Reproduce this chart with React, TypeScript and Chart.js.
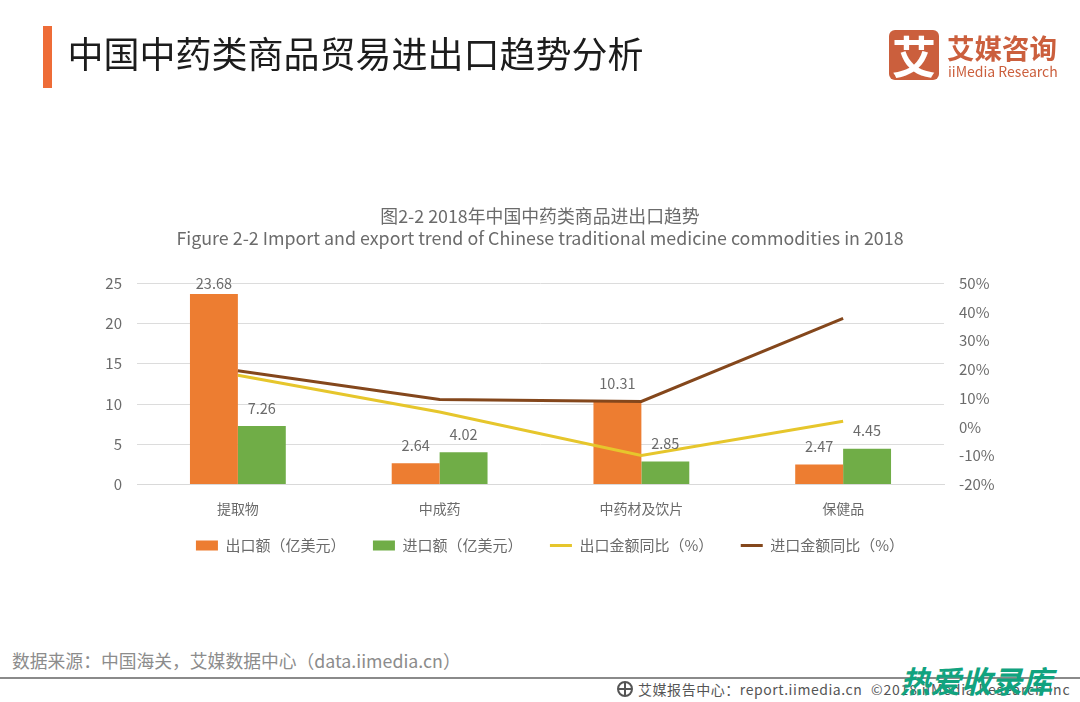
import React, { useEffect, useRef } from "react";
import { Chart, registerables } from "chart.js";

Chart.register(...registerables);

const categories = ["提取物", "中成药", "中药材及饮片", "保健品"];
const exportValues = [23.68, 2.64, 10.31, 2.47];
const importValues = [7.26, 4.02, 2.85, 4.45];
const exportYoY = [18, 5.2, -9.9, 2];
const importYoY = [19.6, 9.6, 8.9, 37.8];
const seriesNames = ["出口额（亿美元）", "进口额（亿美元）", "出口金额同比（%）", "进口金额同比（%）"];
const chartTitle = ["图2-2 2018年中国中药类商品进出口趋势", "Figure 2-2 Import and export trend of Chinese traditional medicine commodities in 2018"];

const FONT = '"Noto Sans CJK SC", "Noto Sans", sans-serif';
const GRAY = "#6b6b6b";

const valueLabels = {
  id: "valueLabels",
  afterLayout(chart: any) {
    chart.legend.left += 10;
    chart.legend.right += 10;
    chart.legend.top -= 14;
    chart.legend.bottom -= 14;
  },
  afterDatasetsDraw(chart: any) {
    const { ctx, chartArea } = chart;
    ctx.save();
    ctx.font = `14.5px ${FONT}`;
    ctx.fillStyle = GRAY;
    ctx.textAlign = "center";
    ctx.textBaseline = "middle";
    [2, 3].forEach((di) => {
      const meta = chart.getDatasetMeta(di);
      meta.data.forEach((bar: any, i: number) => {
        const y = Math.max(bar.y - 18, chartArea.top);
        ctx.fillText(chart.data.datasets[di].data[i].toFixed(2), bar.x, y);
      });
    });
    ctx.restore();
  },
};

const abs = (o: React.CSSProperties): React.CSSProperties => ({ position: "absolute", whiteSpace: "nowrap", fontFamily: FONT, ...o });

export default function App() {
  const ref = useRef<HTMLCanvasElement>(null);
  useEffect(() => {
    const chart = new Chart(ref.current!, {
      type: "bar",
      plugins: [valueLabels],
      data: {
        labels: categories,
        datasets: [
          { type: "line", label: seriesNames[2], data: exportYoY, yAxisID: "y1", borderColor: "#E6C62C", backgroundColor: "#E6C62C", borderWidth: 3, pointRadius: 0, tension: 0, order: 1 },
          { type: "line", label: seriesNames[3], data: importYoY, yAxisID: "y1", borderColor: "#84471C", backgroundColor: "#84471C", borderWidth: 3, pointRadius: 0, tension: 0, order: 0 },
          { label: seriesNames[0], data: exportValues, yAxisID: "y", backgroundColor: "#ED7D31", categoryPercentage: 0.475, barPercentage: 1, order: 3 },
          { label: seriesNames[1], data: importValues, yAxisID: "y", backgroundColor: "#70AD47", categoryPercentage: 0.475, barPercentage: 1, order: 3 },
        ] as any,
      },
      options: {
        animation: false,
        responsive: false,
        devicePixelRatio: 1,
        layout: { padding: { top: 205, left: 0, right: 0, bottom: 0 } },
        plugins: {
          tooltip: { enabled: false },
          title: {
            display: true,
            text: chartTitle,
            color: GRAY,
            font: { family: FONT, size: 17.85, weight: "normal", lineHeight: 1.24 },
            padding: { top: 0, bottom: 34 },
          },
          legend: {
            position: "bottom",
            labels: {
              color: GRAY,
              font: { family: FONT, size: 15 },
              usePointStyle: true,
              pointStyleWidth: 22,
              boxHeight: 10,
              padding: 27.5,
              generateLabels: (c: any) => {
                const order = [2, 3, 0, 1];
                return order.map((di) => {
                  const ds = c.data.datasets[di];
                  const isLine = ds.type === "line";
                  return {
                    text: ds.label,
                    fontColor: GRAY,
                    fillStyle: ds.backgroundColor,
                    strokeStyle: ds.backgroundColor,
                    lineWidth: isLine ? 3 : 0,
                    pointStyle: isLine ? "line" : "rect",
                    datasetIndex: di,
                    hidden: false,
                  };
                });
              },
            },
          },
        },
        scales: {
          x: {
            grid: { display: false },
            border: { color: "#d9d9d9" },
            ticks: { color: GRAY, font: { family: FONT, size: 14 }, padding: 8 },
            afterFit: (s: any) => { s.height = 40; },
          },
          y: {
            position: "left",
            min: 0,
            max: 25,
            grid: { color: "#dcdcdc", tickLength: 0 },
            border: { display: false },
            ticks: { stepSize: 5, color: GRAY, font: { family: FONT, size: 15 }, padding: 15 },
            afterFit: (s: any) => { s.width = 137; },
          },
          y1: {
            position: "right",
            min: -20,
            max: 50,
            grid: { display: false, tickLength: 0 },
            border: { display: false },
            ticks: { stepSize: 10, color: GRAY, font: { family: FONT, size: 15 }, padding: 15, callback: (v: any) => `${v}%` },
            afterFit: (s: any) => { s.width = 136; },
          },
        },
      } as any,
    });
    return () => chart.destroy();
  }, []);

  return (
    <div style={{ position: "absolute", left: 0, top: 0, width: 1080, height: 702, background: "#fff", overflow: "hidden" }}>
      <canvas ref={ref} width={1080} height={577} style={{ position: "absolute", left: 0, top: 0, display: "block" }} />
      <div style={abs({ left: 43, top: 26, width: 9, height: 62, background: "#EE6C37" })} />
      <div style={abs({ left: 67.5, top: 26, fontSize: 36, lineHeight: "52px", color: "#1c1c1c" })}>中国中药类商品贸易进出口趋势分析</div>
      <div style={abs({ left: 889, top: 30, width: 50, height: 50, borderRadius: 6, background: "#CB5F3D", color: "#fff", fontSize: 44, lineHeight: "50px", textAlign: "center", fontWeight: 700 })}>艾</div>
      <div style={abs({ left: 947, top: 29, fontSize: 27.5, lineHeight: "36px", color: "#CB5F3D", fontWeight: 700 })}>艾媒咨询</div>
      <div style={abs({ left: 948, top: 62, fontSize: 14, lineHeight: "18px", color: "#CB5F3D" })}>iiMedia Research</div>
      <div style={abs({ left: 12, top: 648, fontSize: 17.8, lineHeight: "24px", color: "#8c8c8c" })}>数据来源：中国海关，艾媒数据中心（data.iimedia.cn）</div>
      <div style={abs({ left: 0, top: 677, width: 1080, height: 2, background: "#8a8a8a" })} />
      <div style={abs({ left: 617, top: 681, width: 16, height: 16, borderRadius: 8, border: "2px solid #555", boxSizing: "border-box" })} />
      <div style={abs({ left: 624, top: 682, width: 2, height: 14, background: "#555" })} />
      <div style={abs({ left: 618, top: 688, width: 14, height: 2, background: "#555" })} />
      <div style={abs({ left: 638, top: 679, fontSize: 14, lineHeight: "20px", color: "#555", letterSpacing: 0.55 })}>艾媒报告中心：report.iimedia.cn</div>
      <div style={abs({ left: 871, top: 679, fontSize: 14, lineHeight: "20px", color: "#555", letterSpacing: 0.8 })}>©2018 iiMedia Research Inc</div>
      <div style={abs({ left: 900, top: 662, fontSize: 30.5, lineHeight: "36px", color: "#11A37F", fontWeight: 700, fontStyle: "italic" })}>热爱收录库</div>
    </div>
  );
}
